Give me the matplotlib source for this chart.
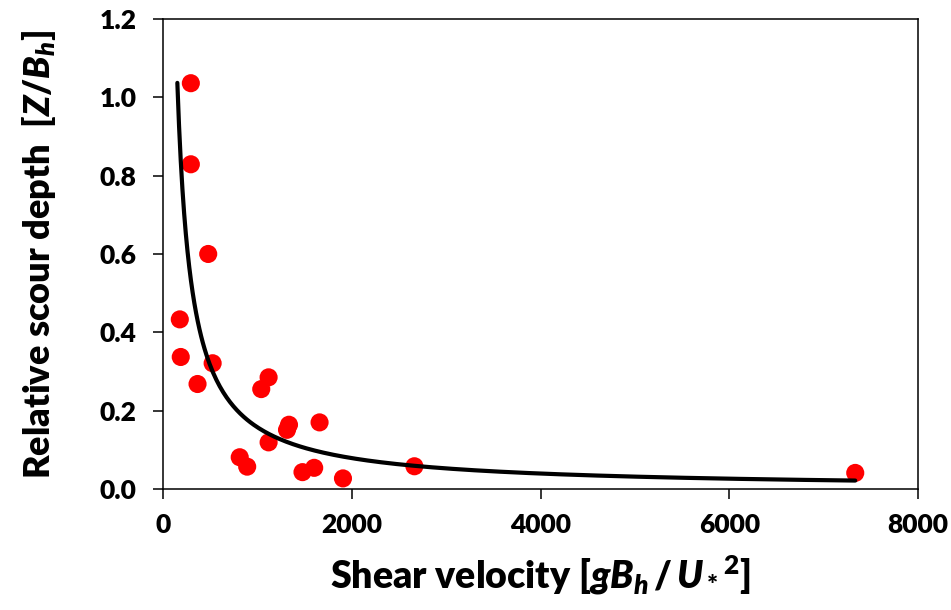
import matplotlib
matplotlib.use("Agg")
import matplotlib.pyplot as plt
import numpy as np

# values
shear_velocity = [295, 295, 479, 178, 188, 526, 366, 1119, 1041, 1335, 1314,
                  1659, 1119, 813, 892, 1478, 1602, 1907, 2664, 7335]
scour_depth = [1.036, 0.829, 0.600, 0.433, 0.337, 0.321, 0.268, 0.285, 0.255,
               0.164, 0.151, 0.170, 0.119, 0.081, 0.057, 0.043, 0.054, 0.027,
               0.058, 0.041]

# power trendline Z/B = a * x^b, coefficients
FIT_A = 157.6
FIT_B = -1.0
FIT_X_START = 152
FIT_X_END = 7335

x_ticks = [0, 2000, 4000, 6000, 8000]
y_ticks = [0.0, 0.2, 0.4, 0.6, 0.8, 1.0, 1.2]

WEIGHT = "heavy"


def style() -> None:
    plt.rcParams.update(
        {
            "font.family": ["Lato", "DejaVu Sans"],
            "font.weight": WEIGHT,
            "mathtext.fontset": "custom",
            "mathtext.rm": "Lato:heavy",
            "mathtext.it": "Lato:italic:heavy",
            "mathtext.bf": "Lato:heavy",
            "axes.linewidth": 1.1,
        }
    )


def main() -> None:
    style()
    fig = plt.figure(figsize=(9.51, 6.10), dpi=100)
    ax = fig.add_axes([0.1714, 0.1984, 0.7939, 0.7705])

    ax.scatter(shear_velocity, scour_depth, s=170, color="#FF0000",
               edgecolor="none", zorder=2)

    xs = np.linspace(FIT_X_START, FIT_X_END, 400)
    ax.plot(xs, FIT_A * xs ** FIT_B, color="black", lw=3.0,
            solid_capstyle="round", zorder=3)

    ax.set_xlim(0, 8000)
    ax.set_ylim(0, 1.2)
    ax.set_xticks(x_ticks)
    ax.set_yticks(y_ticks)
    ax.set_xticklabels([str(t) for t in x_ticks], fontweight=WEIGHT)
    ax.set_yticklabels([f"{t:.1f}" for t in y_ticks], fontweight=WEIGHT)
    ax.tick_params(direction="out", length=7, width=1.1, labelsize=19)
    ax.tick_params(axis="x", pad=10)
    ax.tick_params(axis="y", pad=12)

    ax.set_xlabel(r"Shear velocity [$\mathit{gB_h\,/\,U_*}^{\mathrm{2}}$]",
                  fontsize=27, fontweight=WEIGHT, labelpad=12)
    ax.set_ylabel(r"Relative scour depth  [$\mathit{Z/B_h}$]",
                  fontsize=26, fontweight=WEIGHT, labelpad=30)

    fig.savefig("out.png", dpi=100)


if __name__ == "__main__":
    main()
